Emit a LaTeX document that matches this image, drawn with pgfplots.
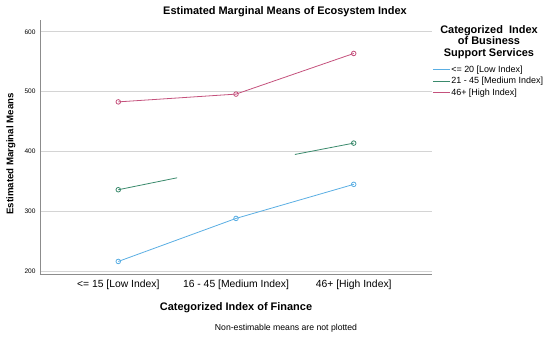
\documentclass[border=0pt]{standalone}
\usepackage{pgfplots}
\pgfplotsset{compat=1.18}
\usepackage{fontspec}
\setmainfont{Liberation Sans}
\definecolor{cblue}{HTML}{5AAEE3}
\definecolor{cgreen}{HTML}{3A8A6C}
\definecolor{cpink}{HTML}{C4517C}
\definecolor{gridc}{HTML}{D4D4D4}
\definecolor{axc}{HTML}{8C8C8C}
\begin{document}
\begin{tikzpicture}
\path[use as bounding box] (0bp,0bp) rectangle (550bp,338bp);
\begin{axis}[
  at={(40bp,64bp)}, anchor=south west,
  scale only axis, width=392bp, height=254bp,
  xmin=-0.665, xmax=2.665,
  ymin=195, ymax=620,
  axis x line*=bottom, axis y line*=left,
  axis line style={axc, line width=0.8bp, -},
  xtick={0,1,2},
  xticklabels={{<= 15 [Low Index]},{16 - 45 [Medium Index]},{46+ [High Index]}},
  ytick={200,300,400,500,600},
  major tick length=0pt,
  ymajorgrids, grid style={gridc, line width=1bp},
  yticklabel style={font=\fontsize{6.6}{7}\selectfont, xshift=-1bp},
  xticklabel style={font=\fontsize{10.4}{11}\selectfont, yshift=-2bp},
  /pgf/number format/assume math mode=true,
  every axis plot/.append style={line width=0.8bp, mark size=2.3bp, mark options={solid, fill=white}},
  legend style={at={(1.0,0.825)}, anchor=north west, draw=none, fill=none,
    font=\fontsize{9}{9}\selectfont, inner sep=0pt, row sep=1.5bp,
    nodes={inner sep=1bp, anchor=west}},
  legend cell align=left,
  clip=false,
]
\addlegendimage{color=cblue, line width=1.1bp, legend image code/.code={\draw[color=cblue, line width=1.1bp] (0bp,0bp) -- (17bp,0bp);}}
\addlegendentry{<= 20 [Low Index]}
\addlegendimage{color=cgreen, legend image code/.code={\draw[color=cgreen, line width=1.1bp] (0bp,0bp) -- (17bp,0bp);}}
\addlegendentry{21 - 45 [Medium Index]}
\addlegendimage{color=cpink, legend image code/.code={\draw[color=cpink, line width=1.1bp] (0bp,0bp) -- (17bp,0bp);}}
\addlegendentry{46+ [High Index]}
\addplot[cblue, mark=o, forget plot] coordinates {(0,216) (1,288) (2,345)};
\addplot[cgreen, forget plot] coordinates {(0,336) (0.5,356)};
\addplot[cpink, mark=o, forget plot] coordinates {(0,483) (1,496) (2,564)};
\addplot[cgreen, forget plot] coordinates {(1.5,395) (2,414)};
\addplot[cgreen, only marks, mark=o, forget plot] coordinates {(0,336) (2,414)};
\end{axis}
\node[font=\fontsize{11}{11}\selectfont\bfseries] at (285bp,326.5bp) {Estimated Marginal Means of Ecosystem Index};
\node[font=\fontsize{9.7}{10}\selectfont\bfseries, rotate=90] at (11bp,184bp) {Estimated Marginal Means};
\node[font=\fontsize{11}{11}\selectfont\bfseries] at (236bp,30bp) {Categorized Index of Finance};
\node[font=\fontsize{8.7}{9}\selectfont] at (286bp,10bp) {Non-estimable means are not plotted};
\node[font=\fontsize{11}{11.5}\selectfont\bfseries, align=center, inner sep=0pt] at (489bp,296bp) {Categorized~~Index\\of Business\\Support Services};
\end{tikzpicture}
\end{document}
